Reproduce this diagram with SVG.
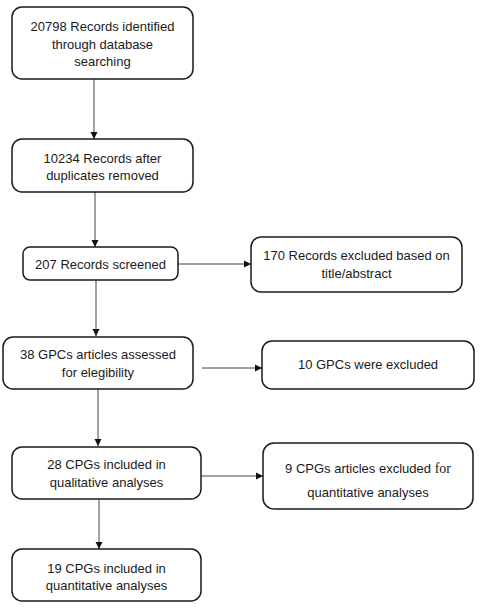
<svg xmlns="http://www.w3.org/2000/svg" width="481" height="608" viewBox="0 0 481 608">
<style>
.box{fill:#ffffff;stroke:#1a1a1a;stroke-width:1.5}
.lbl{font-family:"Liberation Sans",Arial,sans-serif;font-size:13px;fill:#1a1a1a;text-anchor:middle}
.ser{font-family:"Liberation Serif","Times New Roman",serif;font-size:14px}
.conn{stroke:#444444;stroke-width:1;fill:none;marker-end:url(#ah)}
</style>
<defs>
<marker id="ah" markerUnits="userSpaceOnUse" markerWidth="8" markerHeight="8" refX="7" refY="4" orient="auto">
<path d="M0,0.5 L7,4 L0,7.5 Z" fill="#111111"/>
</marker>
</defs>
<rect width="481" height="608" fill="#ffffff"/>
<g id="connectors">
<line class="conn" x1="94" y1="79" x2="94" y2="139"/>
<line class="conn" x1="95" y1="192" x2="95" y2="247"/>
<line class="conn" x1="178" y1="264" x2="251" y2="264"/>
<line class="conn" x1="96" y1="280" x2="96" y2="336"/>
<line class="conn" x1="202" y1="368" x2="262" y2="368"/>
<line class="conn" x1="98" y1="389" x2="98" y2="446"/>
<line class="conn" x1="201" y1="476" x2="263" y2="476"/>
<line class="conn" x1="99" y1="499" x2="99" y2="549"/>
</g>
<g id="n1">
<rect class="box" x="12" y="7" width="181" height="72" rx="10"/>
<text class="lbl" x="102.5" y="31">20798 Records identified</text>
<text class="lbl" x="102.5" y="48.5">through database</text>
<text class="lbl" x="102.5" y="66">searching</text>
</g>
<g id="n2">
<rect class="box" x="12" y="139" width="181" height="53" rx="10"/>
<text class="lbl" x="102.5" y="163">10234 Records after</text>
<text class="lbl" x="102.5" y="180">duplicates removed</text>
</g>
<g id="n3">
<rect class="box" x="23" y="247" width="155" height="33" rx="7"/>
<text class="lbl" x="100.5" y="269">207 Records screened</text>
</g>
<g id="n4">
<rect class="box" x="251" y="237" width="211" height="55" rx="10"/>
<text class="lbl" x="356.5" y="260">170 Records excluded based on</text>
<text class="lbl" x="356.5" y="278">title/abstract</text>
</g>
<g id="n5">
<rect class="box" x="3" y="337" width="190" height="52" rx="10"/>
<text class="lbl" x="98" y="359">38 GPCs articles assessed</text>
<text class="lbl" x="98" y="377">for elegibility</text>
</g>
<g id="n6">
<rect class="box" x="262" y="341" width="212" height="48" rx="10"/>
<text class="lbl" x="368" y="369">10 GPCs were excluded</text>
</g>
<g id="n7">
<rect class="box" x="12" y="447" width="189" height="52" rx="10"/>
<text class="lbl" x="106.5" y="469">28 CPGs included in</text>
<text class="lbl" x="106.5" y="487">qualitative analyses</text>
</g>
<g id="n8">
<rect class="box" x="263" y="443" width="210" height="66" rx="11"/>
<text class="lbl" x="368" y="473">9 CPGs articles excluded <tspan class="ser">for</tspan></text>
<text class="lbl" x="368" y="497">quantitative analyses</text>
</g>
<g id="n9">
<rect class="box" x="12" y="549" width="189" height="52" rx="10"/>
<text class="lbl" x="106.5" y="573">19 CPGs included in</text>
<text class="lbl" x="106.5" y="590">quantitative analyses</text>
</g>
</svg>
